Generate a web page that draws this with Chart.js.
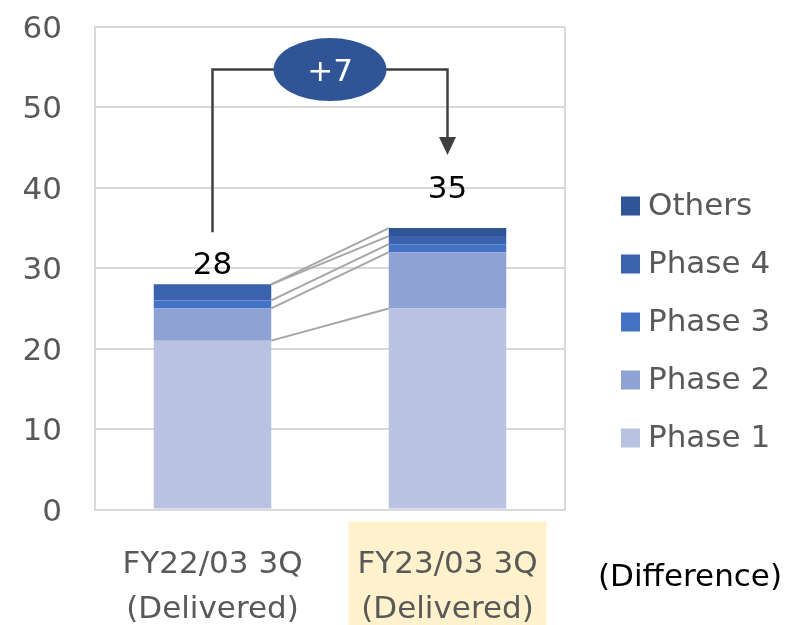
<!DOCTYPE html>
<html>
<head>
<meta charset="utf-8">
<script src="https://cdn.jsdelivr.net/npm/chart.js@4/dist/chart.umd.min.js"></script>
<style>
	html, body { margin: 0; padding: 0; background: #fff; }
	#wrap { width: 787px; height: 625px; }
</style>
</head>
<body>
<div id="wrap"><canvas id="chart-delivered"></canvas></div>
<script>
const categories = [['FY22/03 3Q', '(Delivered)'], ['FY23/03 3Q', '(Delivered)']];
const phase1 = [21, 25];
const phase2 = [4, 7];
const phase3 = [1, 1];
const phase4 = [2, 1];
const others = [0, 1];
const yTicks = [0, 10, 20, 30, 40, 50, 60];
const diffLabel = '(Difference)';

const FONT = '"DejaVu Sans", sans-serif';
const GRAY = '#595959';

const series = [
	{ label: 'Phase 1', data: phase1, color: '#b9c2e1' },
	{ label: 'Phase 2', data: phase2, color: '#8fa2d4' },
	{ label: 'Phase 3', data: phase3, color: '#4472c4' },
	{ label: 'Phase 4', data: phase4, color: '#3a62ad' },
	{ label: 'Others', data: others, color: '#2f5597' },
];

function totals() {
	return categories.map((c, i) => series.reduce((s, d) => s + d.data[i], 0));
}

// 背景・枠線・連結線・注記・凡例
const decor = {
	id: 'decor',
	beforeDraw(chart) {
		const ctx = chart.ctx;
		const x = chart.scales.x;
		const cx = x.getPixelForValue(1);
		ctx.save();
		ctx.fillStyle = '#fff2cc';
		ctx.fillRect(cx - 99, chart.chartArea.bottom + 12, 198, 200);
		ctx.restore();
	},
	beforeDatasetsDraw(chart) {
		const ctx = chart.ctx;
		const a = chart.chartArea;
		ctx.save();
		ctx.strokeStyle = '#d9d9d9';
		ctx.lineWidth = 2;
		ctx.beginPath();
		ctx.moveTo(a.right, a.top);
		ctx.lineTo(a.right, a.bottom);
		ctx.stroke();
		ctx.restore();
	},
	afterDatasetsDraw(chart) {
		const ctx = chart.ctx;
		const y = chart.scales.y;
		const b1 = chart.getDatasetMeta(0).data[0];
		const b2 = chart.getDatasetMeta(0).data[1];
		const x1 = b1.x + b1.width / 2;
		const x2 = b2.x - b2.width / 2;

		// 積み上げ境界を結ぶ線
		ctx.save();
		ctx.strokeStyle = '#a6a6a6';
		ctx.lineWidth = 2;
		let c1 = 0, c2 = 0;
		for (const s of series) {
			c1 += s.data[0];
			c2 += s.data[1];
			ctx.beginPath();
			ctx.moveTo(x1, y.getPixelForValue(c1));
			ctx.lineTo(x2, y.getPixelForValue(c2));
			ctx.stroke();
		}
		ctx.restore();

		// 合計ラベル
		const tot = totals();
		const offs = [18, 38];
		ctx.save();
		ctx.fillStyle = '#000';
		ctx.font = '31px ' + FONT;
		ctx.textAlign = 'center';
		ctx.textBaseline = 'middle';
		[b1, b2].forEach((b, i) => {
			ctx.fillText(String(tot[i]), b.x, y.getPixelForValue(tot[i]) - offs[i]);
		});

		// 差分の矢印
		const topY = y.getPixelForValue(54.7);
		ctx.strokeStyle = '#404040';
		ctx.lineWidth = 2.5;
		ctx.beginPath();
		ctx.moveTo(b1.x, y.getPixelForValue(tot[0]) - 52);
		ctx.lineTo(b1.x, topY);
		ctx.lineTo(b2.x, topY);
		ctx.lineTo(b2.x, y.getPixelForValue(tot[1]) - 90);
		ctx.stroke();
		const tipY = y.getPixelForValue(tot[1]) - 73;
		ctx.fillStyle = '#404040';
		ctx.beginPath();
		ctx.moveTo(b2.x - 8.5, tipY - 18);
		ctx.lineTo(b2.x + 8.5, tipY - 18);
		ctx.lineTo(b2.x, tipY);
		ctx.closePath();
		ctx.fill();

		const ex = (b1.x + b2.x) / 2;
		ctx.fillStyle = '#2f5597';
		ctx.beginPath();
		ctx.ellipse(ex, topY, 56.5, 31.5, 0, 0, Math.PI * 2);
		ctx.fill();
		ctx.fillStyle = '#fff';
		ctx.font = '31px ' + FONT;
		ctx.fillText('+' + (tot[1] - tot[0]), ex, topY + 3);
		ctx.restore();
	},
	afterDraw(chart) {
		const ctx = chart.ctx;
		ctx.save();
		ctx.font = '31px ' + FONT;
		ctx.textBaseline = 'middle';
		const items = chart.data.datasets.slice().reverse();
		items.forEach((d, i) => {
			const cy = 206 + i * 58;
			ctx.fillStyle = d.backgroundColor;
			ctx.fillRect(621, cy - 9.5, 19, 19);
			ctx.fillStyle = GRAY;
			ctx.textAlign = 'left';
			ctx.fillText(d.label, 648, cy + 1);
		});
		ctx.fillStyle = '#000';
		ctx.fillText(diffLabel, 598, 578);
		ctx.restore();
	}
};

new Chart(document.getElementById('chart-delivered').getContext('2d'), {
	type: 'bar',
	data: {
		labels: categories,
		datasets: series.map(s => ({
			label: s.label,
			data: s.data,
			backgroundColor: s.color,
			borderWidth: 0,
			barPercentage: 0.5,
			categoryPercentage: 1.0,
		})),
	},
	options: {
		responsive: true,
		maintainAspectRatio: false,
		animation: false,
		layout: {
			padding: { left: 0, right: 222, top: 27, bottom: 0 },
		},
		plugins: {
			legend: { display: false },
			tooltip: { enabled: false },
		},
		scales: {
			x: {
				stacked: true,
				grid: { display: false },
				border: { color: '#d9d9d9', width: 2 },
				ticks: {
					color: GRAY,
					font: { family: FONT, size: 31, lineHeight: 1.45 },
					padding: 25,
					maxRotation: 0,
				},
				afterFit(scale) { scale.height = 115.5; },
			},
			y: {
				stacked: true,
				min: yTicks[0],
				max: yTicks[yTicks.length - 1],
				afterBuildTicks(scale) { scale.ticks = yTicks.map(v => ({ value: v })); },
				grid: { color: '#d9d9d9', lineWidth: 2, drawTicks: false },
				border: { color: '#d9d9d9', width: 2 },
				ticks: {
					color: GRAY,
					font: { family: FONT, size: 31 },
					padding: 33,
					labelOffset: 3,
				},
				afterFit(scale) {
					scale.width = 95;
					scale.paddingTop = 0;
					scale.paddingBottom = 0;
				},
			},
		},
	},
	plugins: [decor],
});
</script>
</body>
</html>
